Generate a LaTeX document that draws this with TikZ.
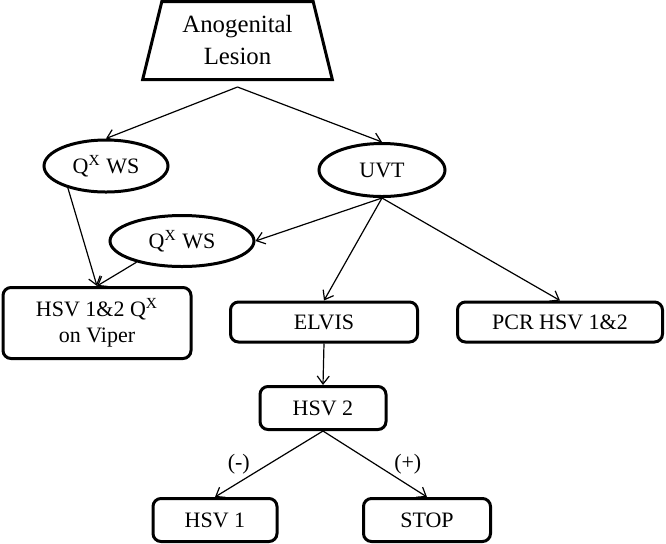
\documentclass[tikz,border=0pt]{standalone}
\usepackage{fontspec}
\setmainfont{Liberation Serif}
\usetikzlibrary{shapes.geometric,arrows.meta}

\begin{document}
\begin{tikzpicture}[x=0.5pt,y=-0.5pt,
    box/.style={draw,line width=1.5pt,rounded corners=4pt,align=center,inner sep=0pt,font=\fontsize{11}{13}\selectfont},
    test/.style={draw,ellipse,line width=1.5pt,inner sep=0pt,font=\fontsize{11}{13}\selectfont},
    arr/.style={-{Straight Barb[length=4pt,width=6pt]},line width=0.6pt}]
    \useasboundingbox (0,0) rectangle (666,543);

    \node[trapezium,trapezium left angle=76,trapezium right angle=76,trapezium stretches=true,
          minimum width=95pt,minimum height=39pt,draw,line width=1.5pt,align=center,
          font=\fontsize{12.4}{16}\selectfont] (lesion) at (237.5,40.5) {Anogenital\\Lesion};
    \coordinate (split) at ([yshift=-3pt]lesion.south);

    \node[test,minimum width=62pt,minimum height=26pt] (qwsA) at (106,166) {Q\textsuperscript{X} WS};
    \node[test,minimum width=63pt,minimum height=26.5pt] (uvt) at (382,170) {UVT};
    \node[test,minimum width=72pt,minimum height=25.5pt] (qwsB) at (182,241) {Q\textsuperscript{X} WS};

    \node[box,minimum width=94pt,minimum height=35.5pt] (hsvq) at (97,323) {HSV 1\&2 Q\textsuperscript{X}\\on Viper};
    \node[box,minimum width=93.5pt,minimum height=20pt] (elvis) at (324,322) {ELVIS};
    \node[box,minimum width=102.5pt,minimum height=20pt] (pcr) at (560,322) {PCR HSV 1\&2};
    \node[box,minimum width=63pt,minimum height=21.5pt] (hsvtwo) at (323,408) {HSV 2};
    \node[box,minimum width=62pt,minimum height=21.5pt] (hsvone) at (215,520) {HSV 1};
    \node[box,minimum width=63.5pt,minimum height=21.5pt] (stop) at (427,520) {STOP};

    \draw[arr] (split) -- (qwsA.north);
    \draw[arr] (split) -- (uvt.north);
    \draw[arr] (uvt.south) -- (qwsB.east);
    \draw[arr] (uvt.south) -- (elvis.north);
    \draw[arr] (uvt.south) -- (pcr.north);
    \draw[arr] (qwsA.210) -- (hsvq.north);
    \draw[arr] (qwsB.205) -- (hsvq.north);
    \draw[arr] (elvis.south) -- (hsvtwo.north);
    \draw[arr] (hsvtwo.south) -- node[left=6pt,font=\fontsize{11}{13}\selectfont]{(-)} (hsvone.north);
    \draw[arr] (hsvtwo.south) -- node[right=6pt,font=\fontsize{11}{13}\selectfont]{(+)} (stop.north);
\end{tikzpicture}
\end{document}
